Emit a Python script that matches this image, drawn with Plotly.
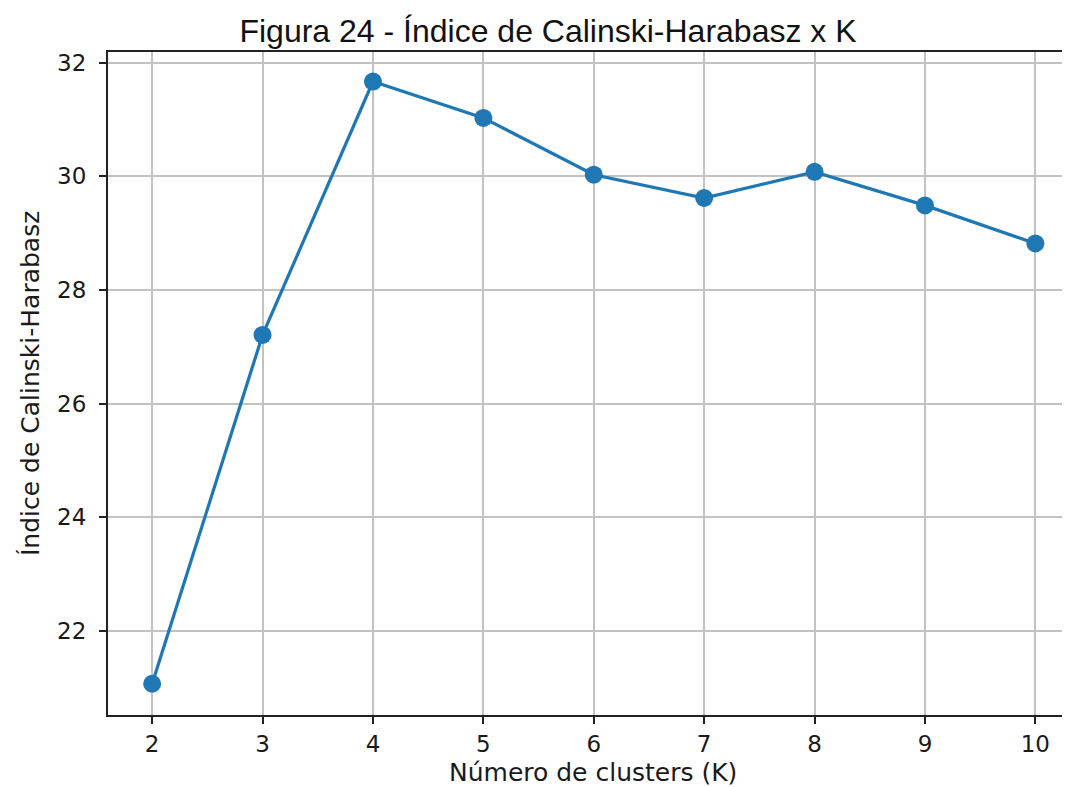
import plotly.graph_objects as go

k_values = [2, 3, 4, 5, 6, 7, 8, 9, 10]
ch_index = [21.07, 27.21, 31.67, 31.03, 30.03, 29.62, 30.08, 29.49, 28.82]
x_ticks = [2, 3, 4, 5, 6, 7, 8, 9, 10]
y_ticks = [22, 24, 26, 28, 30, 32]

title_text = "Figura 24 - Índice de Calinski-Harabasz x K"
x_label = "Número de clusters (K)"
y_label = "Índice de Calinski-Harabasz"

W, H = 1070, 787
OFF = 8  # page body margin offset
L, T, B, R = 108 - OFF, 52 - OFF, 787 - (715 - OFF), 0

fig = go.Figure()
fig.add_trace(go.Scatter(
    x=k_values, y=ch_index, mode="lines+markers",
    line=dict(color="#1f77b4", width=3.2),
    marker=dict(color="#1f77b4", size=18),
    showlegend=False,
))

tick_font = dict(family="DejaVu Sans", size=23, color="#1a1a1a")
fig.update_layout(
    width=W, height=H,
    margin=dict(l=L, r=R, t=T, b=B),
    paper_bgcolor="white", plot_bgcolor="white",
    title=dict(text=title_text, x=(548 - OFF) / W, xanchor="center",
               y=1 - (31 - OFF) / H, yanchor="middle", yref="container",
               font=dict(family="Liberation Sans, Arial", size=32, color="#111111")),
    xaxis=dict(range=[1.6, 1.6 + (W - L - R) / 110.4], tickvals=x_ticks,
               showgrid=True, gridcolor="#c2c2c2", gridwidth=2,
               showline=True, linecolor="#222222", linewidth=2, mirror=True,
               ticks="outside", ticklen=7, tickwidth=2, tickcolor="#222222",
               ticklabelstandoff=0,
               tickfont=tick_font, zeroline=False),
    yaxis=dict(range=[20.52, 32.19], tickvals=y_ticks,
               showgrid=True, gridcolor="#c2c2c2", gridwidth=2,
               showline=True, linecolor="#222222", linewidth=2, mirror=False,
               ticks="outside", ticklen=7, tickwidth=2, tickcolor="#222222",
               ticklabelstandoff=8,
               tickfont=tick_font, zeroline=False),
)

plot_h = H - T - B
plot_w = W - L - R
bottom_px = H - B
fig.add_annotation(text=x_label, xref="paper", yref="paper",
                   x=(593 - OFF - L) / plot_w, y=-((773 - OFF) - bottom_px) / plot_h,
                   xanchor="center", yanchor="middle", showarrow=False,
                   font=dict(family="DejaVu Sans", size=25, color="#1a1a1a"))
fig.add_annotation(text=y_label, xref="paper", yref="paper",
                   x=-(L - (30 - OFF)) / plot_w, y=(bottom_px - (384 - OFF)) / plot_h,
                   xanchor="center", yanchor="middle", showarrow=False,
                   textangle=-90,
                   font=dict(family="DejaVu Sans", size=25, color="#1a1a1a"))

fig.write_html("out.html")
